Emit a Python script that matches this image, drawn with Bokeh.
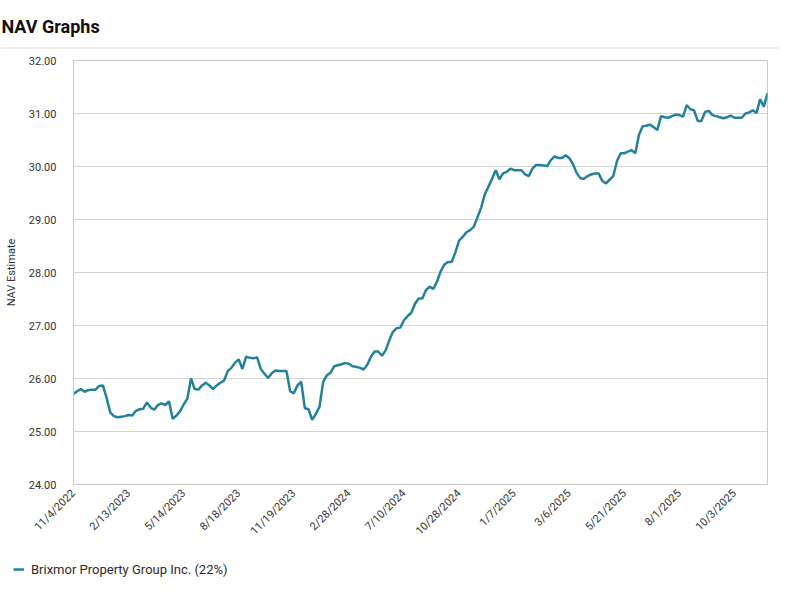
import math
from bokeh.plotting import figure
from bokeh.layouts import column
from bokeh.models import (Range1d, FixedTicker, NumeralTickFormatter, Legend,
                          LegendItem, Label, Span, ColumnDataSource)
from bokeh.embed import file_html
from bokeh.resources import INLINE

# ---------------- data ----------------
title_text = "NAV Graphs"
series_name = "Brixmor Property Group Inc. (22%)"
y_label = "NAV Estimate"

date_labels = ["11/4/2022", "2/13/2023", "5/14/2023", "8/18/2023", "11/19/2023",
               "2/28/2024", "7/10/2024", "10/28/2024", "1/7/2025", "3/6/2025",
               "5/21/2025", "8/1/2025", "10/3/2025"]
points_per_label = 15

nav = [
    25.71, 25.76, 25.80, 25.75, 25.78, 25.79, 25.79, 25.86, 25.87, 25.64,
    25.36, 25.29, 25.27, 25.28, 25.29, 25.31, 25.30, 25.39, 25.42, 25.43,
    25.55, 25.45, 25.41, 25.50, 25.53, 25.50, 25.57, 25.24, 25.30, 25.38,
    25.51, 25.62, 26.00, 25.80, 25.79, 25.87, 25.92, 25.87, 25.80, 25.87,
    25.92, 25.96, 26.14, 26.20, 26.30, 26.36, 26.18, 26.41, 26.39, 26.38,
    26.40, 26.18, 26.09, 26.01, 26.10, 26.15, 26.14, 26.14, 26.14, 25.76,
    25.72, 25.87, 25.94, 25.44, 25.42, 25.22, 25.33, 25.47, 25.94, 26.06,
    26.11, 26.23, 26.25, 26.27, 26.29, 26.28, 26.23, 26.22, 26.20, 26.17,
    26.26, 26.41, 26.51, 26.51, 26.43, 26.53, 26.72, 26.88, 26.95, 26.96,
    27.10, 27.18, 27.24, 27.41, 27.51, 27.51, 27.67, 27.73, 27.69, 27.83,
    28.02, 28.15, 28.20, 28.20, 28.38, 28.60, 28.67, 28.76, 28.80, 28.86,
    29.04, 29.22, 29.47, 29.62, 29.77, 29.93, 29.76, 29.87, 29.90, 29.96,
    29.93, 29.93, 29.93, 29.85, 29.82, 29.96, 30.03, 30.03, 30.02, 30.01,
    30.12, 30.19, 30.16, 30.16, 30.21, 30.16, 30.05, 29.88, 29.78, 29.77,
    29.82, 29.85, 29.87, 29.87, 29.73, 29.68, 29.75, 29.82, 30.10, 30.25,
    30.25, 30.28, 30.31, 30.25, 30.60, 30.76, 30.77, 30.79, 30.74, 30.69,
    30.95, 30.93, 30.92, 30.95, 30.98, 30.97, 30.94, 31.16, 31.08, 31.06,
    30.86, 30.86, 31.03, 31.05, 30.97, 30.95, 30.93, 30.91, 30.93, 30.96,
    30.92, 30.92, 30.92, 31.00, 31.02, 31.06, 31.01, 31.27, 31.13, 31.38,
]
y_ticks = [24, 25, 26, 27, 28, 29, 30, 31, 32]

FONT = "Roboto"
LINE_COLOR = "#23819a"
TEXT_COLOR = "#333333"
W = 779


def no_align(fig):
    if "frame_align" in fig.properties():
        fig.frame_align = False


def blank(fig):
    fig.outline_line_color = None
    fig.grid.visible = False
    fig.background_fill_color = None
    fig.border_fill_color = None


# ---------------- header: title + separator ----------------
HH = 50
header = figure(width=W, height=HH, x_range=Range1d(0, W), y_range=Range1d(HH, 0),
                output_backend="svg", toolbar_location=None,
                x_axis_type=None, y_axis_type=None,
                min_border_left=0, min_border_right=0, min_border_top=0, min_border_bottom=0)
blank(header)
no_align(header)
header.add_layout(Label(x=1, y=26, text=title_text, text_font=FONT, text_font_style="bold",
                        text_font_size="18px", text_color="#111111",
                        text_baseline="alphabetic", text_align="left"))
header.add_layout(Span(location=47.5, dimension="width", line_color="#e2e2e2", line_width=1))

# ---------------- main chart ----------------
x = list(range(len(nav)))
src = ColumnDataSource(data=dict(x=x, nav=nav))

p = figure(width=W, height=495,
           x_range=Range1d(0, len(nav) - 1), y_range=Range1d(y_ticks[0], y_ticks[-1]),
           output_backend="svg", toolbar_location=None,
           min_border_left=73, min_border_right=12, min_border_top=10, min_border_bottom=61)
no_align(p)

p.outline_line_color = "#c8c8c8"
p.outline_line_width = 1
p.xgrid.grid_line_color = None
p.ygrid.grid_line_color = "#d4d4d4"
p.ygrid.grid_line_width = 1

tick_pos = [i * points_per_label for i in range(len(date_labels))]
p.xaxis.ticker = FixedTicker(ticks=tick_pos)
p.xaxis.major_label_overrides = {t: lab for t, lab in zip(tick_pos, date_labels)}
p.xaxis.major_label_orientation = math.pi / 4
p.xaxis.major_tick_line_color = None
p.xaxis.major_tick_out = 0
p.xaxis.major_tick_in = 0
p.xaxis.minor_tick_line_color = None
p.xaxis.axis_line_color = "#c8c8c8"
p.xaxis.major_label_text_font = FONT
p.xaxis.major_label_text_font_size = "11px"
p.xaxis.major_label_text_color = TEXT_COLOR
p.xaxis.major_label_standoff = 7

p.yaxis.ticker = FixedTicker(ticks=y_ticks)
p.yaxis.formatter = NumeralTickFormatter(format="0.00")
p.yaxis.major_tick_line_color = None
p.yaxis.major_tick_out = 0
p.yaxis.major_tick_in = 0
p.yaxis.minor_tick_line_color = None
p.yaxis.axis_line_color = "#c8c8c8"
p.yaxis.major_label_text_font = FONT
p.yaxis.major_label_text_font_size = "11px"
p.yaxis.major_label_text_color = TEXT_COLOR
p.yaxis.major_label_standoff = 17
p.yaxis.axis_label = y_label
p.yaxis.axis_label_text_font = FONT
p.yaxis.axis_label_text_font_size = "11px"
p.yaxis.axis_label_text_font_style = "normal"
p.yaxis.axis_label_text_color = TEXT_COLOR
p.yaxis.axis_label_standoff = 8

p.line("x", "nav", source=src, line_color=LINE_COLOR, line_width=2.5)

# ---------------- legend strip ----------------
LH = 40
leg_fig = figure(width=W, height=LH, x_range=Range1d(0, 1), y_range=Range1d(0, 1),
                 output_backend="svg", toolbar_location=None,
                 x_axis_type=None, y_axis_type=None,
                 min_border_left=0, min_border_right=0, min_border_top=0, min_border_bottom=0)
blank(leg_fig)
no_align(leg_fig)
# swatch renderer: holds one empty (NaN) point so nothing is drawn in the strip itself
swatch = leg_fig.line(x=[float("nan")], y=[float("nan")], line_color=LINE_COLOR, line_width=2.5)
legend = Legend(items=[LegendItem(label=series_name, renderers=[swatch])],
                location=(13, 8), orientation="horizontal",
                padding=0, margin=0, spacing=0,
                glyph_width=11, glyph_height=16, label_height=16, label_standoff=7,
                label_text_font=FONT, label_text_font_size="13px",
                label_text_color="#2b2b2b",
                border_line_color=None, background_fill_alpha=0)
leg_fig.add_layout(legend)

layout = column(header, p, leg_fig, spacing=0)
open("out.html", "w").write(file_html(layout, INLINE))
